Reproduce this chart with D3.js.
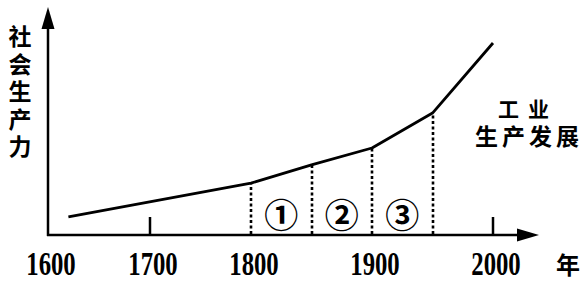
<!DOCTYPE html>
<html>
<head>
<meta charset="utf-8">
<script src="https://cdn.jsdelivr.net/npm/d3@7"></script>
<style>
  html, body { margin: 0; padding: 0; background: #fff; }
  svg { display: block; }
  .cjk { font-family: "Noto Sans CJK SC", sans-serif; font-weight: 700; fill: #000; }
  .num { font-family: "Liberation Serif", serif; font-weight: 700; fill: #000; }
</style>
</head>
<body>
<svg id="chart" width="584" height="281"></svg>
<script>
// data
const years = [1620, 1800, 1850, 1900, 1950, 2000];
const productivity = [9.4, 27, 36.5, 45.3, 63.5, 100];
const tickYears = [1600, 1700, 1800, 1900, 2000];
const stageYears = [1800, 1850, 1900, 1950];
const stageLabels = ["①", "②", "③"];
const yLabel = ["社", "会", "生", "产", "力"];

const svg = d3.select("#chart");
const ink = "#000";

// the year axis is not uniform: 1600-1800 is squeezed compared to 1800-2000
const x = d3.scaleLinear().domain(tickYears).range([48, 150, 251, 372, 493]);
const y = d3.scaleLinear().domain([0, 100]).range([235, 43]);

// axes with arrow heads
svg.append("line").attr("x1", 48).attr("y1", 236).attr("x2", 48).attr("y2", 24)
  .attr("stroke", ink).attr("stroke-width", 2.5);
svg.append("path").attr("d", "M48,7 L41.5,29 L54.5,29 Z").attr("fill", ink);

svg.append("line").attr("x1", 47).attr("y1", 235).attr("x2", 522).attr("y2", 235)
  .attr("stroke", ink).attr("stroke-width", 2.5);
svg.append("path").attr("d", "M539,235 L517,228.5 L517,241.5 Z").attr("fill", ink);

// small upward ticks at 1700 and 2000
svg.selectAll(".tick").data([1700, 2000]).join("line")
  .attr("x1", d => x(d)).attr("x2", d => x(d))
  .attr("y1", 235).attr("y2", 217)
  .attr("stroke", ink).attr("stroke-width", 2.5);

// tick labels: condensed bold serif digits
svg.selectAll(".tl").data(tickYears).join("text")
  .attr("class", "num")
  .attr("transform", d => `translate(${x(d) + 3},275) scale(0.75,1)`)
  .attr("text-anchor", "middle")
  .attr("font-size", 33)
  .text(d => d);

svg.append("text").attr("class", "cjk").attr("x", 568).attr("y", 274)
  .attr("text-anchor", "middle").attr("font-size", 24).text("年");

// dotted drop lines from the curve
const interp = d3.scaleLinear().domain(years).range(productivity);
svg.selectAll(".drop").data(stageYears).join("line")
  .attr("x1", d => Math.round(x(d))).attr("x2", d => Math.round(x(d)))
  .attr("y1", 234).attr("y2", d => y(interp(d)))
  .attr("stroke", ink).attr("stroke-width", 2.6)
  .attr("stroke-dasharray", "3,2.5");

// productivity curve
const line = d3.line().x(d => x(d[0])).y(d => y(d[1]));
svg.append("path")
  .datum(d3.zip(years, productivity))
  .attr("d", line)
  .attr("fill", "none")
  .attr("stroke", ink).attr("stroke-width", 2.8)
  .attr("stroke-linejoin", "round");

// stage numbers between the drop lines
svg.selectAll(".stage").data(stageLabels).join("text")
  .attr("class", "cjk")
  .attr("x", (d, i) => (x(stageYears[i]) + x(stageYears[i + 1])) / 2)
  .attr("y", 228)
  .attr("text-anchor", "middle")
  .attr("font-size", 34)
  .text(d => d);

// vertical y label
svg.selectAll(".yl").data(yLabel).join("text")
  .attr("class", "cjk")
  .attr("x", 20).attr("y", (d, i) => 45 + i * 27.5)
  .attr("text-anchor", "middle")
  .attr("font-size", 23)
  .text(d => d);

// right side caption
svg.append("text").attr("class", "cjk").attr("x", 528).attr("y", 117)
  .attr("text-anchor", "middle").attr("font-size", 21).attr("letter-spacing", 9)
  .text("工业");
svg.append("text").attr("class", "cjk").attr("x", 529).attr("y", 145)
  .attr("text-anchor", "middle").attr("font-size", 23).attr("letter-spacing", 4)
  .text("生产发展");
</script>
</body>
</html>
